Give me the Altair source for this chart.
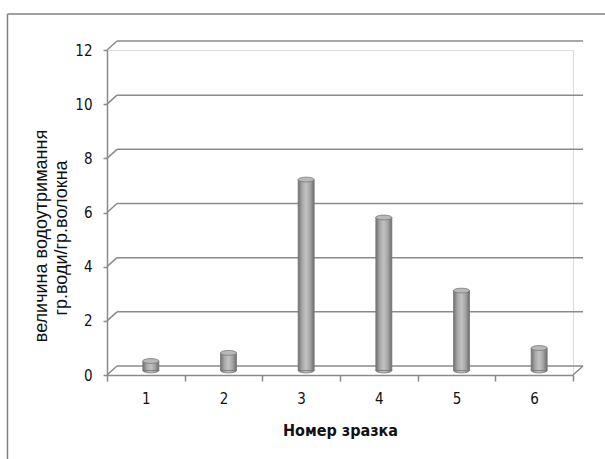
import altair as alt
import pandas as pd

# data
samples = ["1", "2", "3", "4", "5", "6"]
values = [0.35, 0.65, 7.05, 5.65, 2.95, 0.83]
grid_vals = [0, 2, 4, 6, 8, 10, 12]
x_title = "Номер зразка"
y_title_1 = ["величина водоутримання"]
y_title_2 = ["гр.води/гр.волокна"]

df = pd.DataFrame({"sample": samples, "value": values})
grid_df = pd.DataFrame({"g": grid_vals})
one = pd.DataFrame({"g": [0]})

W, H = 466, 325
DX, DY = 10, -9          # depth offset of back wall
LINE = "#8a8a8a"
LBL_FONT = "Liberation Sans Narrow, DejaVu Sans Condensed, sans-serif"

yscale = alt.Scale(domain=[0, 12], nice=False)
xscale = alt.Scale(paddingInner=0, paddingOuter=0)

x_enc = alt.X(
    "sample:O", scale=xscale, sort=samples,
    axis=alt.Axis(
        title=x_title, labelAngle=0, tickBand="extent", tickSize=6, tickWidth=1.5,
        tickColor=LINE, domainColor=LINE, domainWidth=1.5,
        labelFont=LBL_FONT, labelFontSize=15, labelColor="#111", labelPadding=10,
        titleFont=LBL_FONT, titleFontSize=16, titleFontWeight="bold",
        titleColor="#111", titlePadding=16,
    ),
)
y_enc = alt.Y(
    "value:Q", scale=yscale,
    axis=alt.Axis(
        title=None, values=grid_vals, grid=False, tickSize=4, tickWidth=1.5,
        tickColor=LINE, domainColor=LINE, domainWidth=1.5,
        labelFont=LBL_FONT, labelFontSize=15, labelColor="#111", labelPadding=11,
    ),
)

# outer frame (cropped chart-area border)
frame_left = alt.Chart(one).mark_rule(color="#808080", strokeWidth=1.5).encode(
    x=alt.value(-99.5), y=alt.value(-36), y2=alt.value(412))
frame_top = alt.Chart(one).mark_rule(color="#808080", strokeWidth=1.5).encode(
    x=alt.value(-99.5), x2=alt.value(500), y=alt.value(-36))

# y-axis title, two rotated lines
t1 = alt.Chart(pd.DataFrame({"t": y_title_1})).mark_text(
    angle=270, align="center", baseline="middle", font="Liberation Sans",
    fontSize=18, color="#111").encode(x=alt.value(-65), y=alt.value(186), text="t:N")
t2 = alt.Chart(pd.DataFrame({"t": y_title_2})).mark_text(
    angle=270, align="center", baseline="middle", font="Liberation Sans",
    fontSize=18, color="#111").encode(x=alt.value(-45), y=alt.value(188), text="t:N")

# back-wall gridlines
grid = alt.Chart(grid_df).mark_rule(color=LINE, strokeWidth=1.5, yOffset=DY, y2Offset=DY).encode(
    x=alt.value(DX), x2=alt.value(W + DX),
    y=alt.Y("g:Q", scale=yscale), y2="g:Q")
# diagonals from front axis to back wall
diag = alt.Chart(grid_df).mark_rule(color=LINE, strokeWidth=1.5, y2Offset=DY).encode(
    x=alt.value(0), x2=alt.value(DX),
    y=alt.Y("g:Q", scale=yscale), y2="g:Q")
diag_r = alt.Chart(one).mark_rule(color=LINE, strokeWidth=1.5, y2Offset=DY).encode(
    x=alt.value(W), x2=alt.value(W + DX),
    y=alt.Y("g:Q", scale=yscale), y2="g:Q")

grad = alt.Gradient(
    gradient="linear", x1=0, x2=1, y1=0, y2=0,
    stops=[
        alt.GradientStop(color="#707070", offset=0),
        alt.GradientStop(color="#a8a8a8", offset=0.25),
        alt.GradientStop(color="#c2c2c2", offset=0.5),
        alt.GradientStop(color="#a4a4a4", offset=0.75),
        alt.GradientStop(color="#6c6c6c", offset=1),
    ],
)
ELL = "M-1,0A1,0.3,0,1,1,1,0A1,0.3,0,1,1,-1,0Z"

base = alt.Chart(df)
bottom_ell = base.mark_point(shape=ELL, size=256, filled=True, fill=grad, stroke="#777",
                             strokeWidth=0.8, opacity=1, xOffset=5, yOffset=-4.5).encode(
    x=x_enc, y=alt.datum(0, scale=yscale))
bars = base.mark_bar(size=16, fill=grad, stroke="#777", strokeWidth=0.8,
                     xOffset=5, yOffset=-4.5, y2Offset=-4.5).encode(x=x_enc, y=y_enc)
top_ell = base.mark_point(shape=ELL, size=256, filled=True, fill="#b8b8b8", stroke="#777",
                          strokeWidth=0.8, opacity=1, xOffset=5, yOffset=-4.5).encode(
    x=x_enc, y=alt.Y("value:Q", scale=yscale))

chart = alt.layer(
    frame_left, frame_top, t1, t2, grid, diag, diag_r, bottom_ell, bars, top_ell
).properties(
    width=W, height=H,
    autosize=alt.AutoSizeParams(type="none"),
    padding={"left": 107, "top": 50, "right": 32, "bottom": 84},
).configure_view(stroke=None).configure(background="white")

chart.save("out.html", embed_options={"renderer": "svg", "actions": False})
